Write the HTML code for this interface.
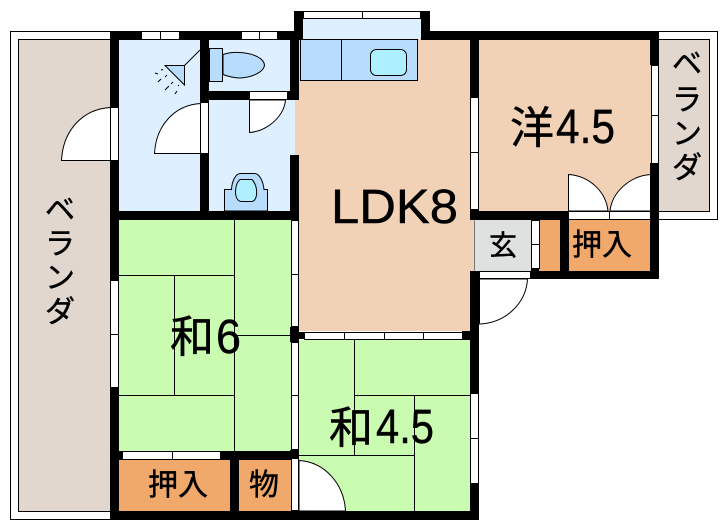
<!DOCTYPE html>
<html><head><meta charset="utf-8"><style>
html,body{margin:0;padding:0;background:#fff;width:723px;height:530px;overflow:hidden}
svg{display:block}
text{font-family:"Liberation Sans","Noto Sans CJK JP",sans-serif;fill:#000;stroke:#000;stroke-width:.45}
</style></head><body>
<svg width="723" height="530" viewBox="0 0 723 530" xmlns="http://www.w3.org/2000/svg">
<g shape-rendering="crispEdges">
<!-- verandas -->
<rect x="10.5" y="31.5" width="110" height="488" fill="#fff" stroke="#000"/>
<rect x="18.5" y="39.5" width="100" height="472" fill="#e1d7cf" stroke="#000"/>
<rect x="650" y="31.5" width="67.5" height="188" fill="#fff" stroke="#000"/>
<rect x="650" y="39.5" width="59.5" height="172" fill="#e1d7cf" stroke="#000"/>
<!-- floors -->
<rect x="119" y="39" width="81" height="172" fill="#deefff"/>
<rect x="209" y="39" width="81" height="52" fill="#deefff"/>
<rect x="209" y="100" width="86" height="111" fill="#deefff"/>
<rect x="303" y="18" width="118" height="22" fill="#deefff"/>
<rect x="295" y="39" width="175" height="292" fill="#f2d2b6"/>
<rect x="470" y="220" width="4" height="51" fill="#f2d2b6"/>
<rect x="479" y="39" width="172" height="172" fill="#f2d2b6"/>
<rect x="119" y="220" width="172" height="231" fill="#c9fcb1"/>
<rect x="299" y="340" width="171" height="171" fill="#c9fcb1"/>
<rect x="119" y="460" width="111" height="51" fill="#f0a96b"/>
<rect x="239" y="460" width="52" height="51" fill="#f0a96b"/>
<rect x="569" y="220" width="82" height="51" fill="#f0a96b"/>
<rect x="539" y="220" width="21" height="51" fill="#f0a96b"/>
<rect x="474" y="220" width="57" height="51" fill="#dfe1e1"/>
<path d="M474.5 220V271" stroke="#777" fill="none"/>
<!-- tatami lines -->
<path d="M234.5 220V451M119 275.5H234M174.5 275V395M119 395.5H234M234 335.5H291M354.5 340V455M354 395.5H470M414.5 395V511M299 455.5H414" stroke="#000" fill="none"/>
<!-- walls -->
<g fill="#000">
<rect x="110" y="31" width="189" height="9"/>
<rect x="110" y="31" width="9" height="76"/>
<rect x="110" y="160" width="9" height="120"/>
<rect x="110" y="388" width="9" height="132"/>
<rect x="110" y="511" width="369" height="9"/>
<rect x="200" y="31" width="9" height="71"/>
<rect x="200" y="154" width="9" height="60"/>
<rect x="200" y="91" width="49" height="9"/>
<rect x="288" y="91" width="11" height="9"/>
<rect x="290" y="31" width="9" height="69"/>
<rect x="290" y="155" width="9" height="65"/>
<rect x="119" y="211" width="180" height="9"/>
<rect x="290" y="327" width="9" height="15"/>
<rect x="299" y="332" width="5" height="7"/>
<rect x="290" y="450" width="9" height="10"/>
<rect x="221" y="451" width="78" height="9"/>
<rect x="110" y="451" width="12" height="9"/>
<rect x="230" y="451" width="9" height="60"/>
<rect x="294" y="11" width="9" height="29"/>
<rect x="421" y="11" width="9" height="29"/>
<rect x="421" y="31" width="238" height="9"/>
<rect x="470" y="31" width="9" height="66"/>
<rect x="470" y="210" width="9" height="10"/>
<rect x="470" y="211" width="98" height="9"/>
<rect x="560" y="211" width="9" height="68"/>
<rect x="650" y="31" width="9" height="34"/>
<rect x="650" y="163" width="9" height="116"/>
<rect x="530" y="271" width="129" height="8"/>
<rect x="531" y="268" width="8" height="4"/>
<rect x="470" y="271" width="9" height="122"/>
<rect x="470" y="483" width="9" height="37"/>
<rect x="462" y="331" width="17" height="9"/>
</g>
<!-- windows -->
<g fill="#fff" stroke="#000">
<rect x="141.5" y="31.5" width="19" height="8"/><rect x="160.5" y="31.5" width="19" height="8"/>
<rect x="241.5" y="31.5" width="18" height="8"/><rect x="259.5" y="31.5" width="18" height="8"/>
<rect x="303.5" y="11.5" width="59" height="7"/><rect x="362.5" y="11.5" width="58" height="7"/>
<rect x="110.5" y="107.5" width="8" height="53"/>
<rect x="200.5" y="102.5" width="8" height="51"/>
<rect x="249.5" y="91.5" width="38" height="8"/>
<rect x="110.5" y="280.5" width="8" height="54"/><rect x="110.5" y="334.5" width="8" height="53"/>
<rect x="291.5" y="220.5" width="7" height="54"/><rect x="291.5" y="274.5" width="7" height="52"/>
<rect x="291.5" y="342.5" width="7" height="53"/><rect x="291.5" y="395.5" width="7" height="54"/>
<rect x="291.5" y="458.5" width="7" height="52"/>
<rect x="122.5" y="451.5" width="50" height="8"/><rect x="172.5" y="451.5" width="48" height="8"/>
<rect x="304.5" y="332.5" width="40" height="7"/><rect x="344.5" y="332.5" width="40" height="7"/><rect x="384.5" y="332.5" width="39" height="7"/><rect x="423.5" y="332.5" width="39" height="7"/>
<rect x="470.5" y="97.5" width="8" height="55"/><rect x="470.5" y="152.5" width="8" height="57"/>
<rect x="651.5" y="65.5" width="7" height="50"/><rect x="651.5" y="115.5" width="7" height="48"/>
<rect x="568.5" y="211.5" width="41" height="8"/><rect x="609.5" y="211.5" width="41" height="8"/>
<rect x="531.5" y="220.5" width="8" height="24"/><rect x="531.5" y="244.5" width="8" height="24"/>
<rect x="479.5" y="271.5" width="51" height="7"/>
<rect x="470.5" y="393.5" width="8" height="45"/><rect x="470.5" y="438.5" width="8" height="45"/>
</g>
<!-- kitchen -->
<rect x="300.5" y="39.5" width="117" height="41" fill="#b8dcfb" stroke="#000"/>
<path d="M341.5 40V80" stroke="#000"/>
<!-- toilet tank -->
<rect x="209.5" y="48.5" width="13" height="33" fill="#b8dcfb" stroke="#000"/>
</g>
<!-- doors -->
<g fill="#fff" stroke="#000" stroke-width="1">
<path d="M110.5 107.5C83 109 63 130 61.5 160.5H110.5Z"/>
<path d="M200.5 103.5C175 105 156 125 154.5 153.5H200.5Z"/>
<path d="M249.5 100V132.5C268 131 284 116 285.5 100Z"/>
<path d="M568.5 211V174.5C590 176 606 192 608 211Z"/>
<path d="M650.5 211V174.5C630 176 612 192 610 211Z"/>
<path d="M479.5 279V324C505 323 526 304 527.5 279Z"/>
<path d="M299 460.5C325 462 344 484 345.5 511H299Z"/>
</g>
<!-- sink -->
<rect x="370.5" y="49.5" width="36" height="26" rx="6" fill="#aef0ff" stroke="#000"/>
<!-- toilet bowl -->
<path d="M223 54.5C228 53 232 52 240 52.5C252 53 264 58 264.5 65C264 72 252 77.5 240 78C233 78 227 76 223 74.5Z" fill="#b8dcfb" stroke="#000"/>
<!-- shower -->
<path d="M184.5 65.5H165L184.5 85Z" fill="#b8dcfb" stroke="#000"/>
<path d="M184.5 65.5L200 50" stroke="#000" fill="none"/>
<path d="M155 73l3 1M161 70l2-0.5M158 82l3-3M165 77l2-2M165 90l4-4M171 84l2-2M175 94l2-3M178 86l1-1" stroke="#000" stroke-width="1" fill="none"/>
<!-- wc -->
<path d="M224.5 211V189.5H231.5C232 180 236 174 240 173.5H255C259 174 263 180 264 189.5H267.5V211Z" fill="#b8dcfb" stroke="#000"/>
<path d="M240 179.5H252C256 184 257 190 256.5 195C256 198 255 201 252 201.5H241C238 201 236 198 235.5 193C235.5 187 237 182 240 179.5Z" fill="#aef0ff" stroke="#000"/>
<!-- labels -->
<g font-size="30">
<text x="45" y="220">ベ</text>
<text x="45" y="254">ラ</text>
<text x="45" y="288">ン</text>
<text x="45" y="322">ダ</text>
<text x="672" y="74">ベ</text>
<text x="672" y="110">ラ</text>
<text x="672" y="144">ン</text>
<text x="672" y="178">ダ</text>
</g>
<text x="331" y="223" font-size="48" textLength="127" lengthAdjust="spacingAndGlyphs">LDK8</text>
<text x="510" y="143" font-size="44">洋</text>
<text x="556" y="143" font-size="48" textLength="59" lengthAdjust="spacingAndGlyphs">4.5</text>
<text x="170" y="352" font-size="44">和</text>
<text x="216" y="353" font-size="48" textLength="25" lengthAdjust="spacingAndGlyphs">6</text>
<text x="329" y="443" font-size="44">和</text>
<text x="376" y="443" font-size="48" textLength="58" lengthAdjust="spacingAndGlyphs">4.5</text>
<text x="489" y="255" font-size="28">玄</text>
<text x="572" y="255" font-size="30">押入</text>
<text x="148" y="495" font-size="30">押入</text>
<text x="249" y="495" font-size="30">物</text>
</svg>
</body></html>
